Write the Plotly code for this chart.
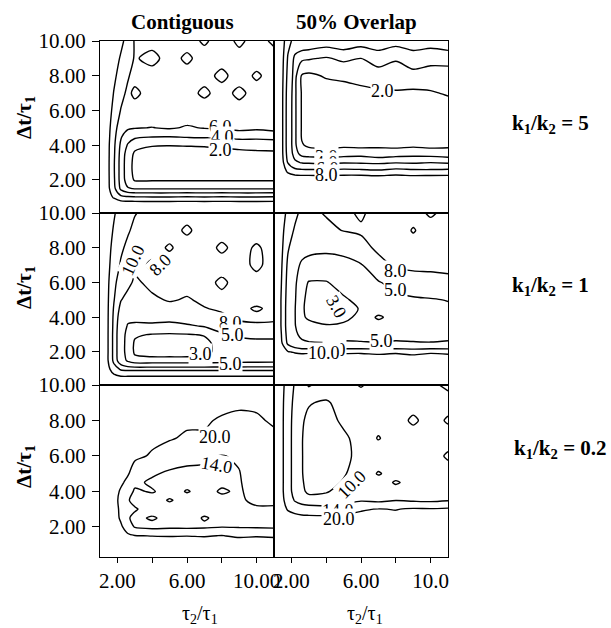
import plotly.graph_objects as go

FONT = "Liberation Serif"

# ---------------- data ----------------
X_GRID = [1.0, 1.4, 1.8, 2.2, 2.6, 3.0, 4.0, 5.0, 6.0, 7.0, 8.0, 9.0, 10.0, 11.0]
Y_GRID = [0.1, 0.5, 1.0, 1.5, 2.0, 2.5, 3.0, 3.5, 4.0, 4.5, 5.0, 6.0, 7.0, 8.0, 9.0, 10.0]

Z_CONTIG_K5 = [
    [14, 14, 14, 14, 14, 14, 14, 14, 14, 14, 14, 14, 14, 14],
    [13, 12.5, 12, 12, 12, 12, 12, 12, 12, 12, 12, 12, 12, 12],
    [12.5, 11, 9.8, 8.6, 8.4, 8.3, 8.2, 8.2, 8.3, 8.2, 8.3, 8.2, 8.2, 8.3],
    [12.2, 10.8, 8.6, 5.6, 4.2, 3.9, 3.9, 3.9, 3.9, 3.9, 3.9, 3.9, 3.9, 3.9],
    [12, 10.8, 8.3, 5.2, 3.0, 1.8, 1.8, 1.8, 1.8, 1.8, 1.8, 1.8, 1.8, 1.8],
    [12, 10.8, 8.2, 5.2, 2.8, 1.5, 1.0, 0.9, 0.9, 0.9, 0.9, 0.9, 0.9, 0.9],
    [12, 10.8, 8.2, 5.2, 2.8, 1.5, 0.9, 0.8, 0.8, 0.8, 0.8, 0.9, 0.9, 0.9],
    [12, 10.8, 8.3, 5.3, 3.0, 1.7, 1.3, 1.2, 1.2, 1.3, 1.4, 1.5, 1.6, 1.7],
    [12, 10.8, 8.4, 5.6, 3.8, 2.6, 2.1, 2.05, 2.1, 2.15, 2.3, 2.5, 2.6, 2.6],
    [12, 10.9, 8.6, 6.2, 4.9, 4.4, 4.1, 4.05, 4.2, 4.3, 4.2, 4.7, 4.6, 4.8],
    [12.1, 11, 8.8, 6.9, 6.3, 6.1, 5.95, 6.2, 5.8, 6.1, 6.3, 6.6, 6.4, 6.7],
    [12.2, 11.2, 9.4, 7.9, 7.4, 7.2, 7.1, 7.3, 7.2, 7.0, 7.3, 7.2, 7.1, 7.2],
    [12.4, 11.4, 9.9, 8.6, 7.6, 8.4, 7.2, 7.1, 7.3, 8.4, 7.2, 8.5, 7.2, 7.1],
    [12.6, 11.7, 10.4, 9.2, 8.2, 7.3, 7.2, 7.1, 7.2, 7.3, 8.5, 7.1, 8.3, 7.2],
    [12.8, 11.9, 10.8, 9.8, 9.0, 7.8, 8.6, 7.2, 8.4, 7.1, 7.2, 7.3, 7.1, 7.2],
    [13, 12, 11, 10.4, 9.4, 7.8, 7.3, 7.1, 7.2, 8.3, 7.1, 8.4, 7.2, 8.4],
]

Z_OVERLAP_K5 = [
    [12, 12, 12, 12, 12, 12, 12, 12, 12, 12, 12, 12, 12, 12],
    [12, 11.8, 11.6, 11.5, 11.5, 11.5, 11.5, 11.5, 11.5, 11.5, 11.5, 11.5, 11.5, 11.5],
    [12, 11.5, 11.2, 11, 11, 11, 11, 11, 11, 11, 11, 11, 11, 11],
    [12, 11, 10.6, 10.5, 10.5, 10.5, 10.5, 10.5, 10.5, 10.5, 10.5, 10.5, 10.5, 10.5],
    [12, 10.2, 9.8, 9.6, 9.6, 9.6, 9.5, 9.6, 9.7, 9.5, 9.6, 9.4, 9.6, 9.5],
    [12, 9.6, 7.6, 6.8, 6.6, 6.6, 6.5, 6.7, 6.6, 6.4, 6.8, 6.6, 6.5, 6.7],
    [12, 9.2, 5.9, 4.3, 3.9, 3.8, 3.7, 3.9, 3.8, 3.7, 3.9, 3.8, 4.0, 3.8],
    [12, 9.0, 5.2, 3.4, 2.7, 2.6, 2.5, 2.6, 2.7, 2.5, 2.6, 2.7, 2.6, 2.5],
    [12, 9.0, 5.0, 3.2, 2.1, 1.8, 1.7, 1.8, 1.7, 1.8, 1.7, 1.8, 1.7, 1.8],
    [12, 9.0, 5.0, 3.2, 1.9, 1.5, 1.4, 1.5, 1.5, 1.4, 1.5, 1.5, 1.4, 1.5],
    [12, 9.0, 5.0, 3.2, 1.9, 1.5, 1.3, 1.4, 1.3, 1.4, 1.3, 1.4, 1.3, 1.4],
    [12, 9.0, 5.0, 3.2, 1.9, 1.5, 1.3, 1.3, 1.4, 1.3, 1.4, 1.4, 1.5, 1.5],
    [12, 9.0, 5.1, 3.2, 1.9, 1.6, 1.5, 1.6, 1.7, 1.8, 1.9, 1.8, 1.9, 2.1],
    [12, 9.1, 5.4, 3.3, 1.9, 1.8, 2.1, 2.2, 2.4, 2.6, 2.5, 2.7, 2.6, 2.5],
    [12, 9.2, 5.8, 3.6, 3.2, 3.1, 2.9, 3.2, 3.0, 3.4, 3.1, 3.5, 3.3, 3.4],
    [12, 9.4, 6.6, 5.4, 5.0, 4.9, 4.6, 4.8, 4.5, 4.7, 4.4, 4.6, 4.5, 4.7],
]

Z_CONTIG_K1 = [
    [14, 14, 14, 14, 14, 14, 14, 14, 14, 14, 14, 14, 14, 14],
    [14, 13, 12.8, 12.6, 12.6, 12.6, 12.6, 12.6, 12.6, 12.6, 12.6, 12.6, 12.6, 12.6],
    [14, 12.8, 11, 9.8, 9.6, 9.6, 9.6, 9.6, 9.6, 9.6, 9.6, 9.6, 9.6, 9.6],
    [14, 12.5, 9.5, 6.5, 4.6, 3.4, 3.4, 3.4, 3.4, 3.5, 3.7, 3.9, 4.0, 4.1],
    [14, 12.5, 9.4, 6.2, 4.0, 2.8, 2.5, 2.5, 2.5, 2.7, 3.4, 3.8, 4.0, 4.1],
    [14, 12.5, 9.4, 6.2, 4.0, 2.8, 2.4, 2.4, 2.4, 2.6, 3.6, 4.2, 4.4, 4.5],
    [14, 12.5, 9.4, 6.2, 4.2, 3.2, 2.9, 2.8, 2.9, 3.1, 4.6, 5.4, 5.6, 5.5],
    [14, 12.5, 9.5, 6.4, 4.8, 4.6, 4.6, 4.5, 4.7, 5.2, 6.5, 7.4, 7.6, 7.5],
    [14, 12.5, 9.6, 6.8, 5.6, 5.6, 5.8, 5.6, 6.2, 6.8, 7.6, 8.4, 8.6, 8.5],
    [14, 12.5, 9.8, 7.4, 6.4, 6.6, 6.8, 7.2, 7.6, 7.9, 8.3, 8.6, 7.7, 8.6],
    [14, 12.5, 10.1, 8.1, 7.2, 7.4, 7.6, 8.2, 7.8, 8.4, 8.6, 8.5, 8.8, 8.7],
    [14, 12.6, 10.4, 9.2, 8.6, 7.6, 8.6, 8.7, 8.8, 8.7, 7.6, 8.8, 8.7, 8.9],
    [14, 12.7, 11.0, 9.8, 9.0, 8.6, 7.7, 8.8, 8.7, 8.8, 8.9, 8.7, 7.6, 8.8],
    [14, 12.8, 11.4, 10.3, 9.6, 9.0, 8.6, 7.8, 8.8, 8.9, 7.6, 8.8, 7.7, 8.9],
    [14, 13, 11.8, 10.8, 10.2, 9.6, 8.9, 8.7, 7.7, 8.8, 8.9, 8.7, 9.0, 8.8],
    [14, 13.2, 12.2, 11.2, 10.6, 10.1, 9.3, 8.8, 8.7, 8.9, 8.7, 8.9, 8.8, 8.7],
]

Z_OVERLAP_K1 = [
    [14, 14, 14, 14, 14, 14, 14, 14, 14, 14, 14, 14, 14, 14],
    [14, 13.5, 13, 13, 13, 13, 13, 13, 13, 13, 13, 13, 13, 13],
    [14, 13, 12.5, 12.4, 12.4, 12.4, 12.4, 12.4, 12.4, 12.4, 12.4, 12.4, 12.4, 12.4],
    [14, 12.5, 11.8, 11.6, 11.5, 11.6, 11.4, 11.7, 11.5, 11.3, 11.8, 11.2, 11.6, 11.4],
    [14, 11.5, 10.2, 9.8, 9.6, 9.7, 9.5, 9.6, 9.7, 9.5, 9.6, 9.4, 9.7, 9.5],
    [14, 10.5, 7.6, 6.2, 5.4, 5.2, 5.1, 5.3, 5.2, 5.1, 5.3, 5.2, 5.1, 5.3],
    [14, 10.2, 7.2, 5.4, 4.5, 4.2, 4.2, 4.3, 4.3, 4.2, 4.3, 4.2, 4.4, 4.3],
    [14, 10.0, 7.0, 5.1, 4.0, 3.4, 3.1, 3.2, 3.6, 3.9, 4.0, 4.2, 4.1, 4.3],
    [14, 10.0, 7.0, 5.1, 3.2, 2.8, 2.5, 2.7, 3.3, 5.4, 4.0, 4.1, 4.2, 4.1],
    [14, 10.0, 7.0, 5.1, 3.2, 2.6, 2.3, 2.5, 3.1, 3.7, 4.0, 4.2, 4.4, 4.6],
    [14, 10.0, 7.1, 5.2, 3.3, 2.6, 2.4, 2.8, 3.4, 3.9, 4.3, 4.6, 4.8, 5.1],
    [14, 10.2, 7.3, 5.4, 3.6, 2.9, 2.9, 3.6, 4.2, 4.8, 5.9, 6.8, 7.2, 7.4],
    [14, 10.4, 7.6, 5.8, 4.6, 4.3, 4.2, 4.4, 4.8, 7.0, 8.4, 8.6, 8.5, 8.6],
    [14, 10.6, 8.2, 7.0, 6.0, 5.6, 5.4, 5.6, 7.0, 8.6, 8.7, 8.9, 8.6, 8.8],
    [14, 10.8, 8.8, 7.8, 7.2, 7.0, 7.4, 8.1, 8.4, 8.8, 8.6, 10.2, 8.8, 9.2],
    [14, 11.2, 9.4, 8.4, 7.6, 7.4, 8.2, 8.6, 7.6, 9.1, 9.4, 9.0, 10.4, 9.2],
]

Z_CONTIG_K02 = [
    [26, 26, 26, 26, 26, 26, 26, 26, 26, 26, 26, 26, 26, 26],
    [26, 25.5, 25, 25, 25, 25, 25, 25, 25, 25, 25, 25, 25, 25],
    [26, 25, 24.5, 24, 24, 24, 24, 24, 24, 24, 24, 24, 24, 24],
    [26, 25, 24, 23, 21, 20.2, 19.8, 19.6, 19.8, 19.5, 20.2, 19.0, 19.5, 19.0],
    [26, 25, 23.5, 21, 17, 13.6, 12.5, 13, 12.8, 13.2, 13.8, 13.6, 13.4, 13.2],
    [26, 25, 23, 19, 14.5, 12.8, 14.6, 12.4, 12.2, 14.4, 12.8, 13.2, 13.5, 13.4],
    [26, 25, 23, 18.5, 14.2, 14.5, 11.8, 12.2, 12.0, 12.3, 12.6, 13, 13.2, 13.6],
    [26, 25, 22.5, 18, 14.4, 12.6, 12, 14.4, 12.3, 12.4, 12.8, 13.2, 15.2, 14.6],
    [26, 25, 22.5, 19.2, 16, 13.4, 14.4, 12.2, 14.3, 12.6, 14.5, 13.4, 16, 16.5],
    [26, 25.5, 23.5, 21, 18.5, 15, 13.2, 12.6, 12.8, 13, 13.2, 13.6, 16.5, 17],
    [26, 25.5, 24, 22.5, 20.5, 17.5, 14.6, 13.2, 13.1, 13.3, 13.5, 13.8, 16.8, 17.2],
    [26, 26, 25, 24, 22.5, 21, 19.5, 17, 15.2, 14.6, 13.8, 14.6, 17.5, 17.8],
    [26, 26, 25.5, 25, 24.5, 23, 21, 20.5, 19.2, 19.6, 18.6, 18.2, 18.6, 19],
    [26, 26, 26, 25.5, 25, 24.5, 23, 22, 21, 20.4, 19.6, 19.2, 19.4, 20.6],
    [26, 26, 26, 26, 25.5, 25, 24, 23, 22.5, 21.5, 21, 20.6, 20.8, 21],
    [26, 26, 26, 26, 26, 25.5, 25, 24, 23, 22.5, 22, 21.5, 21.5, 21.6],
]

Z_OVERLAP_K02 = [
    [26, 26, 26, 26, 26, 26, 26, 26, 26, 26, 26, 26, 26, 26],
    [26, 25, 25, 25, 25, 25, 25, 25, 25, 25, 25, 25, 25, 25],
    [26, 25, 24.5, 24.5, 24.5, 24.5, 24.5, 24.5, 24.5, 24.5, 24.5, 24.5, 24.5, 24.5],
    [26, 25, 24, 24, 24, 24, 24, 24, 24, 24, 24, 24, 24, 24],
    [25, 24.5, 23.5, 23.5, 23.5, 23.5, 23.5, 23.5, 23.5, 23.5, 23.5, 23.5, 23.5, 23.5],
    [24.5, 23.5, 22.5, 22, 21.5, 21.5, 21.5, 21.5, 21.5, 21.5, 21.5, 21.5, 21.5, 21.5],
    [24, 22.5, 19.5, 18, 17, 16.5, 16, 17, 19.5, 20.2, 19.8, 20.6, 20.4, 20.8],
    [24, 22, 17.5, 13.5, 11.5, 10.8, 11, 12, 13.4, 12.6, 13.8, 13.2, 12.8, 13.6],
    [24, 22, 16, 12.2, 10.4, 9.6, 9.8, 10.8, 11.5, 12, 12.2, 12.6, 12.4, 12.8],
    [24, 22, 16, 12, 10.2, 9.4, 9.2, 10.2, 11.2, 11.8, 14.5, 12.5, 12.1, 12.6],
    [24, 22, 16, 12, 10.1, 9.3, 9.0, 9.8, 11, 14.4, 12.2, 12.4, 12.8, 12.5],
    [24, 22, 16, 12, 10.1, 9.2, 8.8, 9.5, 10.6, 11.2, 12.6, 12.2, 12.4, 14.5],
    [24, 22, 16, 12, 10.1, 9.2, 8.6, 9.4, 11.2, 14.3, 11.8, 12.3, 12.7, 12.5],
    [24, 22, 16, 12.2, 10.3, 9.4, 8.8, 10.6, 11.5, 12.2, 12.5, 14.6, 12.6, 14.4],
    [24, 22, 16.5, 12.6, 11, 10.2, 9.6, 11.2, 12, 11.8, 12.4, 12.6, 12.3, 12.8],
    [24, 22.5, 17, 13.5, 12.5, 14.4, 12.2, 12.8, 14.3, 12.6, 13.1, 12.8, 13.4, 14.6],
]

LEVELS_CONTIG_K5 = [2, 4, 6, 8, 10]
LEVELS_OVERLAP_K5 = [2, 3, 4, 6, 8]
LEVELS_CONTIG_K1 = [3, 5, 8, 10, 12]
LEVELS_OVERLAP_K1 = [3, 5, 8, 10]
LEVELS_CONTIG_K02 = [14, 20]
LEVELS_OVERLAP_K02 = [10, 14, 20]

COLUMN_TITLES = ["Contiguous", "50% Overlap"]
ROW_TITLES = ["k<sub>1</sub>/k<sub>2</sub> = 5",
              "k<sub>1</sub>/k<sub>2</sub> = 1",
              "k<sub>1</sub>/k<sub>2</sub> = 0.2"]
Y_TITLE = "Δt/τ<sub>1</sub>"
X_TITLE = "τ<sub>2</sub>/τ<sub>1</sub>"
Y_TICK_VALS = [2, 4, 6, 8, 10]
Y_TICK_TEXT = ["2.00", "4.00", "6.00", "8.00", "10.00"]
X_TICK_VALS = [2, 4, 6, 8, 10]
X_TICK_TEXT = [["2.00", " ", "6.00", " ", "10.00"],
               ["2.00", " ", "6.00", " ", "10.0"]]

# contour-label text, value position and angle for each panel
CONTOUR_LABELS = [
    [("6.0", 7.95, 5.05, 0), ("4.0", 8.05, 4.45, 0), ("2.0", 7.95, 3.75, 0)],
    [("2.0", 7.25, 7.1, 0), ("3.0", 4.0, 3.35, 0), ("4.0", 4.0, 3.0, 0),
     ("6.0", 4.05, 2.65, 0), ("8.0", 4.0, 2.3, 0)],
    [("10.0", 2.9, 7.3, -65), ("8.0", 4.45, 7.0, -45), ("8.0", 8.5, 3.65, 0),
     ("5.0", 8.6, 2.95, 0), ("3.0", 6.75, 1.9, 0), ("5.0", 8.5, 1.3, 0)],
    [("8.0", 8.0, 6.65, 0), ("5.0", 8.0, 5.55, 0), ("3.0", 4.6, 4.6, 60),
     ("5.0", 7.2, 2.65, 0), ("8.0", 4.5, 2.1, 0), ("10.0", 3.9, 1.95, 0)],
    [("20.0", 7.6, 7.05, 0), ("14.0", 7.7, 5.5, 10)],
    [("10.0", 5.5, 4.4, -45), ("14.0", 4.65, 2.9, 0), ("20.0", 4.75, 2.45, 0)],
]

PANELS = [
    (Z_CONTIG_K5, LEVELS_CONTIG_K5),
    (Z_OVERLAP_K5, LEVELS_OVERLAP_K5),
    (Z_CONTIG_K1, LEVELS_CONTIG_K1),
    (Z_OVERLAP_K1, LEVELS_OVERLAP_K1),
    (Z_CONTIG_K02, LEVELS_CONTIG_K02),
    (Z_OVERLAP_K02, LEVELS_OVERLAP_K02),
]

# ---------------- layout geometry ----------------
W, H = 611, 628
COL_PX = [(100, 274), (274, 448)]
ROW_PX = [(41, 213), (213, 385), (385, 557)]
Y_RANGES = [[0.1, 10], [0.1, 10], [0.3, 10]]

fig = go.Figure()
layout = dict(
    template="none",
    width=W, height=H, margin=dict(l=0, r=0, t=0, b=0, pad=0, autoexpand=False),
    paper_bgcolor="white", plot_bgcolor="white", showlegend=False,
    font=dict(family=FONT, color="black"),
)
annotations = []


def paper_text(px, py, text, size, angle=0):
    return dict(x=px / W, y=1 - py / H, xref="paper", yref="paper", text=text,
                showarrow=False, textangle=angle, xanchor="center", yanchor="middle",
                font=dict(family=FONT, size=size, color="black"))


for i, (z, levels) in enumerate(PANELS):
    r, c = divmod(i, 2)
    n = "" if i == 0 else str(i + 1)
    for L in levels:
        fig.add_trace(go.Contour(
            x=X_GRID, y=Y_GRID, z=z, xaxis="x" + n, yaxis="y" + n,
            autocontour=False,
            contours=dict(coloring="lines", start=L, end=L, size=1, showlabels=False),
            line=dict(width=1.4, smoothing=0.8),
            colorscale=[[0, "black"], [1, "black"]], showscale=False,
            hoverinfo="skip",
        ))
    x0, x1 = COL_PX[c]
    y0, y1 = ROW_PX[r]
    xa = dict(domain=[x0 / W, x1 / W], range=[1, 11], anchor="y" + n,
              showline=True, mirror=True, linecolor="black", linewidth=1.3,
              showgrid=False, zeroline=False, fixedrange=True, automargin=False)
    ya = dict(domain=[1 - y1 / H, 1 - y0 / H], range=Y_RANGES[r], anchor="x" + n,
              showline=True, mirror=True, linecolor="black", linewidth=1.3,
              showgrid=False, zeroline=False, fixedrange=True, automargin=False)
    if r == 2:
        xa.update(ticks="outside", ticklen=5, tickwidth=1.2, tickcolor="black",
                  tickvals=X_TICK_VALS, ticktext=X_TICK_TEXT[c],
                  tickfont=dict(family=FONT, size=21, color="black"),
                  ticklabelstandoff=0)
    else:
        xa.update(showticklabels=False, ticks="")
    if c == 0:
        ya.update(ticks="outside", ticklen=7, tickwidth=1.2, tickcolor="black",
                  tickvals=Y_TICK_VALS, ticktext=Y_TICK_TEXT,
                  tickfont=dict(family=FONT, size=21, color="black"),
                  ticklabelstandoff=2)
    else:
        ya.update(showticklabels=False, ticks="")
    layout["xaxis" + n] = xa
    layout["yaxis" + n] = ya

    for txt, lx, ly, ang in CONTOUR_LABELS[i]:
        annotations.append(dict(
            x=lx, y=ly, xref="x" + n, yref="y" + n, text=txt, showarrow=False,
            textangle=ang, font=dict(family=FONT, size=18, color="black"),
            bgcolor="white", borderpad=0, xanchor="center", yanchor="middle"))

# column titles
for c, t in enumerate(COLUMN_TITLES):
    annotations.append(paper_text([182, 356][c], 22, "<b>" + t + "</b>", 21))
# row titles
for r, t in enumerate(ROW_TITLES):
    px, py = [(550, 124), (550, 286), (560, 449)][r]
    annotations.append(paper_text(px, py, "<b>" + t + "</b>", 21))
# y-axis titles
for r in range(3):
    annotations.append(paper_text(25, [118, 288, 467][r], "<b>" + Y_TITLE + "</b>", 21, -90))
# x-axis titles
for c in range(2):
    annotations.append(paper_text([200, 365][c], 614, X_TITLE, 20))

layout["annotations"] = annotations
fig.update_layout(**layout)
fig.write_html("out.html")
